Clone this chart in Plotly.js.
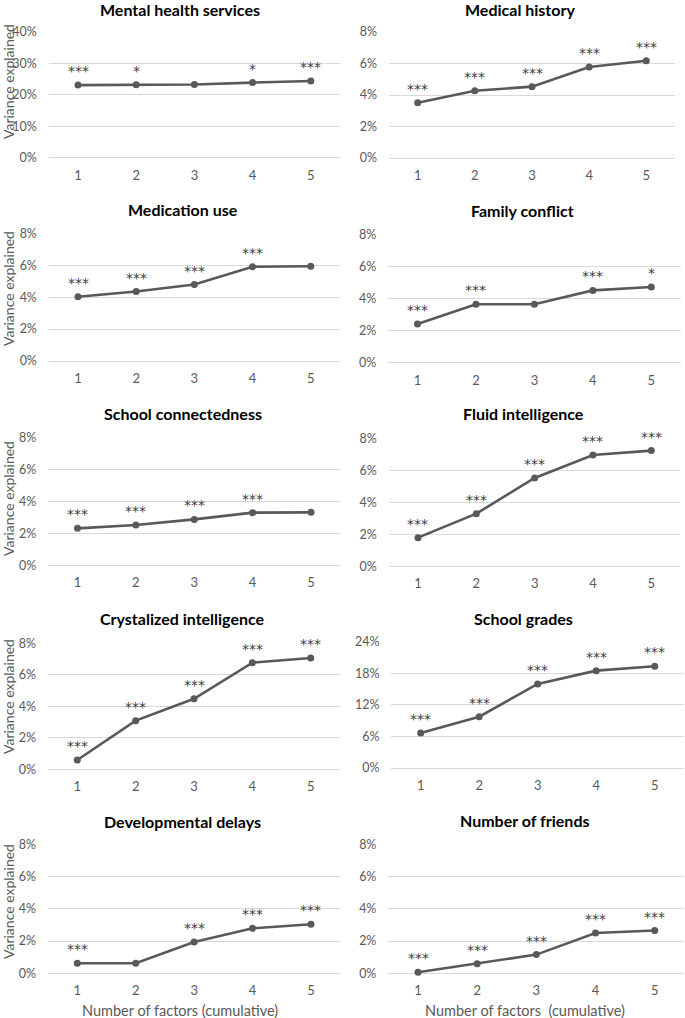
<!DOCTYPE html>
<html>
<head>
<meta charset="utf-8">
<script src="https://cdn.plot.ly/plotly-3.0.1.min.js"></script>
<style>html,body{margin:0;padding:0;background:#fff;}#chart{width:685px;height:1018px;}</style>
</head>
<body>
<div id="chart"></div>
<script>
// ---- data ----
const categories = [1, 2, 3, 4, 5];
const panelTitles = ["Mental health services", "Medical history", "Medication use", "Family conflict",
  "School connectedness", "Fluid intelligence", "Crystalized intelligence", "School grades",
  "Developmental delays", "Number of friends"];
const mentalHealthServices = [23.1, 23.2, 23.3, 23.9, 24.4];
const medicalHistory = [3.51, 4.27, 4.53, 5.78, 6.18];
const medicationUse = [4.02, 4.35, 4.79, 5.90, 5.94];
const familyConflict = [2.42, 3.66, 3.66, 4.53, 4.74];
const schoolConnectedness = [2.31, 2.52, 2.87, 3.29, 3.31];
const fluidIntelligence = [1.79, 3.29, 5.52, 6.96, 7.23];
const crystalizedIntelligence = [0.59, 3.09, 4.48, 6.77, 7.07];
const schoolGrades = [6.65, 9.75, 15.97, 18.5, 19.33];
const developmentalDelays = [0.62, 0.62, 1.94, 2.79, 3.04];
const numberOfFriends = [0.06, 0.60, 1.16, 2.50, 2.65];
const starsMental = ["***", "*", "", "*", "***"];
const starsMedical = ["***", "***", "***", "***", "***"];
const starsMedication = ["***", "***", "***", "***", ""];
const starsFamily = ["***", "***", "", "***", "*"];
const starsConnect = ["***", "***", "***", "***", ""];
const starsFluid = ["***", "***", "***", "***", "***"];
const starsCrystal = ["***", "***", "***", "***", "***"];
const starsGrades = ["***", "***", "***", "***", "***"];
const starsDelays = ["***", "", "***", "***", "***"];
const starsFriends = ["***", "***", "***", "***", "***"];
const yMax = [40, 8, 8, 8, 8, 8, 8, 24, 8, 8];
const yStep = [10, 2, 2, 2, 2, 2, 2, 6, 2, 2];
const yTitleText = "Variance explained";
const xTitleLeft = "Number of factors (cumulative)";
const xTitleRight = "Number of factors\u00a0 (cumulative)";

const seriesList = [mentalHealthServices, medicalHistory, medicationUse, familyConflict,
  schoolConnectedness, fluidIntelligence, crystalizedIntelligence, schoolGrades,
  developmentalDelays, numberOfFriends];
const starsList = [starsMental, starsMedical, starsMedication, starsFamily, starsConnect,
  starsFluid, starsCrystal, starsGrades, starsDelays, starsFriends];

// ---- layout geometry (pixels) ----
const W = 685, H = 1018;
// [x of cat1, x of cat5, y of 0 gridline, y of top gridline, title x, title y]
const geo = [
  [78.0, 310.8, 157.7, 32.0, 180, 10],
  [417.7, 646.3, 158.0, 32.0, 520, 10],
  [78.0, 310.7, 361.0, 233.3, 183, 209],
  [417.5, 651.3, 362.7, 235.0, 522, 210],
  [77.5, 311.0, 565.3, 437.3, 183, 413],
  [418.0, 651.3, 566.3, 438.3, 523, 414],
  [77.3, 310.7, 769.3, 643.3, 182, 618],
  [420.7, 654.7, 768.0, 641.7, 523, 618],
  [77.3, 311.0, 973.3, 844.3, 183, 821],
  [418.0, 654.7, 973.3, 844.3, 525, 820]
];
const yTitleCenters = [82, 289, 499, 697, 902];

const FONT = "Lato, 'Open Sans', sans-serif";
const GRAY = "#595959";
const traces = [];
const layout = {
  width: W, height: H,
  margin: {l: 0, r: 0, t: 0, b: 0},
  paper_bgcolor: "#fff", plot_bgcolor: "#fff",
  showlegend: false,
  font: {family: FONT, color: GRAY},
  annotations: []
};

for (let i = 0; i < 10; i++) {
  const n = i + 1;
  const xs = n === 1 ? "" : String(n);
  const [x1, x5, y0, yT, tx, ty] = geo[i];
  const sp = (x5 - x1) / 4;
  const left = x1 - 0.5 * sp, right = Math.min(W, x5 + 0.5 * sp);
  const rHi = 1 + (right - x1) / sp;
  traces.push({
    type: "scatter", mode: "lines+markers",
    x: categories, y: seriesList[i],
    xaxis: "x" + xs, yaxis: "y" + xs,
    line: {color: GRAY, width: 2.6},
    marker: {color: GRAY, size: 7},
    cliponaxis: false, hoverinfo: "skip"
  });
  layout["xaxis" + xs] = {
    domain: [left / W, right / W], range: [0.5, rHi], anchor: "y" + xs,
    tickvals: categories, showgrid: false, zeroline: false, showline: false,
    ticks: "", ticklabelstandoff: 8,
    tickfont: {size: 13, color: GRAY, family: FONT}, fixedrange: true
  };
  layout["yaxis" + xs] = {
    domain: [(H - y0) / H, (H - yT) / H], range: [0, yMax[i]], anchor: "x" + xs,
    dtick: yStep[i], tick0: 0, ticksuffix: "%",
    showgrid: true, gridcolor: "#d9d9d9", gridwidth: 1,
    zeroline: true, zerolinecolor: "#d9d9d9", zerolinewidth: 1, showline: false,
    ticks: "", ticklabelstandoff: 11,
    tickfont: {size: 12.5, color: GRAY, family: FONT}, fixedrange: true
  };
  // significance stars
  for (let k = 0; k < categories.length; k++) {
    if (!starsList[i][k]) continue;
    layout.annotations.push({
      xref: "x" + xs, yref: "y" + xs, x: categories[k], y: seriesList[i][k],
      text: starsList[i][k], showarrow: false, yanchor: "middle", yshift: 14,
      font: {size: 14, color: "#404040", family: "'DejaVu Sans', sans-serif"}
    });
  }
  // panel title
  layout.annotations.push({
    xref: "paper", yref: "paper", x: tx / W, y: 1 - ty / H,
    text: "<b>" + panelTitles[i] + "</b>", showarrow: false,
    xanchor: "center", yanchor: "middle",
    font: {size: 16, color: "#000", family: FONT}
  });
}
// y titles (left column)
yTitleCenters.forEach(c => {
  layout.annotations.push({
    xref: "paper", yref: "paper", x: 8 / W, y: 1 - c / H,
    text: yTitleText, showarrow: false, textangle: -90,
    xanchor: "center", yanchor: "middle",
    font: {size: 14, color: GRAY, family: FONT}
  });
});
// x titles (bottom row)
layout.annotations.push({
  xref: "paper", yref: "paper", x: 180 / W, y: 1 - 1010.5 / H,
  text: xTitleLeft, showarrow: false, xanchor: "center", yanchor: "middle",
  font: {size: 14.5, color: GRAY, family: FONT}
});
layout.annotations.push({
  xref: "paper", yref: "paper", x: 525 / W, y: 1 - 1010.5 / H,
  text: xTitleRight, showarrow: false, xanchor: "center", yanchor: "middle",
  font: {size: 14.5, color: GRAY, family: FONT}
});

Plotly.newPlot("chart", traces, layout, {staticPlot: true, displayModeBar: false});
</script>
</body>
</html>
